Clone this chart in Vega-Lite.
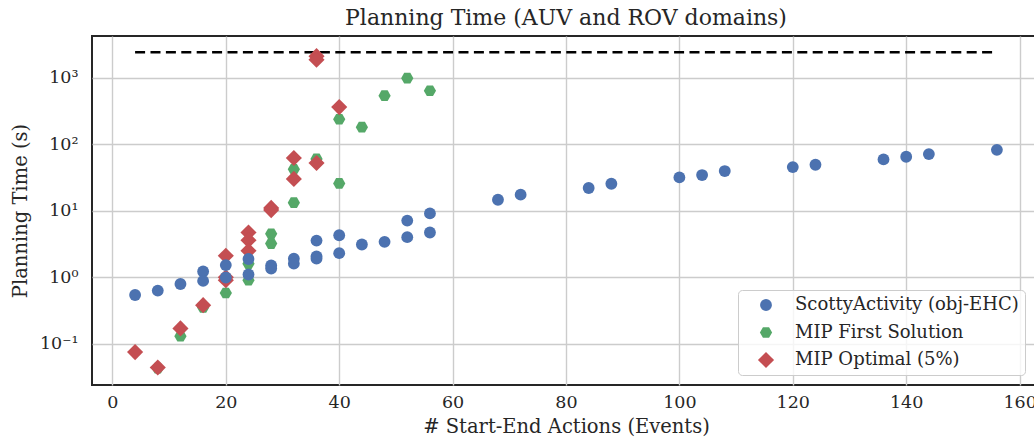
{
  "$schema": "https://vega.github.io/schema/vega-lite/v6.json",
  "autosize": "none",
  "padding": {"left": 92, "top": 36, "right": 0, "bottom": 59},
  "width": 948,
  "height": 349,
  "config": {
    "font": "DejaVu Serif",
    "view": {"stroke": "#262626", "strokeWidth": 2},
    "axis": {"grid": true, "gridColor": "#cccccc", "gridWidth": 1.4, "ticks": false, "domain": false, "labelColor": "#262626", "titleColor": "#262626", "labelFont": "DejaVu Serif", "titleFont": "DejaVu Serif", "labelFontSize": 17.5, "titleFontSize": 19.5, "titleFontWeight": "normal"},
    "title": {"font": "DejaVu Serif", "fontSize": 22, "fontWeight": "normal", "color": "#262626", "offset": 6}
  },
  "title": "Planning Time (AUV and ROV domains)",
  "datasets": {
    "pts": [
      {"x": 8, "t": 0.043, "s": "MIP First Solution"},
      {"x": 12, "t": 0.13, "s": "MIP First Solution"},
      {"x": 16, "t": 0.35, "s": "MIP First Solution"},
      {"x": 20, "t": 0.58, "s": "MIP First Solution"},
      {"x": 24, "t": 1.6, "s": "MIP First Solution"},
      {"x": 24, "t": 0.9, "s": "MIP First Solution"},
      {"x": 28, "t": 4.5, "s": "MIP First Solution"},
      {"x": 28, "t": 3.2, "s": "MIP First Solution"},
      {"x": 32, "t": 42, "s": "MIP First Solution"},
      {"x": 32, "t": 13.2, "s": "MIP First Solution"},
      {"x": 36, "t": 60, "s": "MIP First Solution"},
      {"x": 40, "t": 237, "s": "MIP First Solution"},
      {"x": 40, "t": 25.7, "s": "MIP First Solution"},
      {"x": 44, "t": 180, "s": "MIP First Solution"},
      {"x": 48, "t": 535, "s": "MIP First Solution"},
      {"x": 52, "t": 980, "s": "MIP First Solution"},
      {"x": 56, "t": 635, "s": "MIP First Solution"},
      {"x": 4, "t": 0.075, "s": "MIP Optimal (5%)"},
      {"x": 8, "t": 0.044, "s": "MIP Optimal (5%)"},
      {"x": 12, "t": 0.17, "s": "MIP Optimal (5%)"},
      {"x": 16, "t": 0.38, "s": "MIP Optimal (5%)"},
      {"x": 20, "t": 2.1, "s": "MIP Optimal (5%)"},
      {"x": 20, "t": 1.0, "s": "MIP Optimal (5%)"},
      {"x": 20, "t": 0.9, "s": "MIP Optimal (5%)"},
      {"x": 24, "t": 4.7, "s": "MIP Optimal (5%)"},
      {"x": 24, "t": 3.6, "s": "MIP Optimal (5%)"},
      {"x": 24, "t": 2.5, "s": "MIP Optimal (5%)"},
      {"x": 28, "t": 11, "s": "MIP Optimal (5%)"},
      {"x": 28, "t": 10.2, "s": "MIP Optimal (5%)"},
      {"x": 32, "t": 62, "s": "MIP Optimal (5%)"},
      {"x": 32, "t": 30, "s": "MIP Optimal (5%)"},
      {"x": 36, "t": 2100, "s": "MIP Optimal (5%)"},
      {"x": 36, "t": 1850, "s": "MIP Optimal (5%)"},
      {"x": 36, "t": 52, "s": "MIP Optimal (5%)"},
      {"x": 40, "t": 360, "s": "MIP Optimal (5%)"},
      {"x": 4, "t": 0.54, "s": "ScottyActivity (obj-EHC)"},
      {"x": 8, "t": 0.63, "s": "ScottyActivity (obj-EHC)"},
      {"x": 12, "t": 0.79, "s": "ScottyActivity (obj-EHC)"},
      {"x": 16, "t": 1.22, "s": "ScottyActivity (obj-EHC)"},
      {"x": 16, "t": 0.88, "s": "ScottyActivity (obj-EHC)"},
      {"x": 20, "t": 1.52, "s": "ScottyActivity (obj-EHC)"},
      {"x": 20, "t": 0.99, "s": "ScottyActivity (obj-EHC)"},
      {"x": 24, "t": 1.88, "s": "ScottyActivity (obj-EHC)"},
      {"x": 24, "t": 1.1, "s": "ScottyActivity (obj-EHC)"},
      {"x": 28, "t": 1.5, "s": "ScottyActivity (obj-EHC)"},
      {"x": 28, "t": 1.35, "s": "ScottyActivity (obj-EHC)"},
      {"x": 32, "t": 1.9, "s": "ScottyActivity (obj-EHC)"},
      {"x": 32, "t": 1.6, "s": "ScottyActivity (obj-EHC)"},
      {"x": 36, "t": 3.55, "s": "ScottyActivity (obj-EHC)"},
      {"x": 36, "t": 2.05, "s": "ScottyActivity (obj-EHC)"},
      {"x": 36, "t": 1.9, "s": "ScottyActivity (obj-EHC)"},
      {"x": 40, "t": 4.27, "s": "ScottyActivity (obj-EHC)"},
      {"x": 40, "t": 2.3, "s": "ScottyActivity (obj-EHC)"},
      {"x": 44, "t": 3.1, "s": "ScottyActivity (obj-EHC)"},
      {"x": 48, "t": 3.4, "s": "ScottyActivity (obj-EHC)"},
      {"x": 52, "t": 7.1, "s": "ScottyActivity (obj-EHC)"},
      {"x": 52, "t": 4.0, "s": "ScottyActivity (obj-EHC)"},
      {"x": 56, "t": 9.1, "s": "ScottyActivity (obj-EHC)"},
      {"x": 56, "t": 4.7, "s": "ScottyActivity (obj-EHC)"},
      {"x": 68, "t": 14.6, "s": "ScottyActivity (obj-EHC)"},
      {"x": 72, "t": 17.4, "s": "ScottyActivity (obj-EHC)"},
      {"x": 84, "t": 21.9, "s": "ScottyActivity (obj-EHC)"},
      {"x": 88, "t": 25.4, "s": "ScottyActivity (obj-EHC)"},
      {"x": 100, "t": 31.6, "s": "ScottyActivity (obj-EHC)"},
      {"x": 104, "t": 34.3, "s": "ScottyActivity (obj-EHC)"},
      {"x": 108, "t": 39.4, "s": "ScottyActivity (obj-EHC)"},
      {"x": 120, "t": 45.2, "s": "ScottyActivity (obj-EHC)"},
      {"x": 124, "t": 49, "s": "ScottyActivity (obj-EHC)"},
      {"x": 136, "t": 58.9, "s": "ScottyActivity (obj-EHC)"},
      {"x": 140, "t": 64.6, "s": "ScottyActivity (obj-EHC)"},
      {"x": 144, "t": 70.8, "s": "ScottyActivity (obj-EHC)"},
      {"x": 156, "t": 82, "s": "ScottyActivity (obj-EHC)"}
    ],
    "limit": [{"x": 4, "x2": 156, "t": 2400}]
  },
  "layer": [
    {
      "data": {"name": "limit"},
      "mark": {"type": "rule", "color": "#000000", "strokeWidth": 2.6, "strokeDash": [10, 5.4]},
      "encoding": {
        "x": {"field": "x", "type": "quantitative", "scale": {"domain": [-3.6, 163.6], "nice": false, "zero": false}},
        "x2": {"field": "x2"},
        "y": {"field": "t", "type": "quantitative", "scale": {"type": "log", "domain": [0.024, 4217], "nice": false}}
      }
    },
    {
      "data": {"name": "pts"},
      "mark": {"type": "point", "filled": true, "opacity": 1, "strokeWidth": 0},
      "encoding": {
        "x": {"field": "x", "type": "quantitative", "title": "# Start-End Actions (Events)",
          "axis": {"values": [0, 20, 40, 60, 80, 100, 120, 140, 160], "labelPadding": 8, "titlePadding": 7}},
        "y": {"field": "t", "type": "quantitative", "title": "Planning Time (s)",
          "axis": {"values": [0.1, 1, 10, 100, 1000], "labelPadding": 14, "titlePadding": 9,
            "labelExpr": "datum.value == 1000 ? '10³' : datum.value == 100 ? '10²' : datum.value == 10 ? '10¹' : datum.value == 1 ? '10⁰' : '10⁻¹'"}},
        "color": {"field": "s", "type": "nominal", "title": null,
          "scale": {"domain": ["ScottyActivity (obj-EHC)", "MIP First Solution", "MIP Optimal (5%)"], "range": ["#4C72B0", "#55A868", "#C44E52"]},
          "legend": {"orient": "none", "legendX": 646, "legendY": 254, "labelFontSize": 18, "labelFont": "DejaVu Serif", "labelColor": "#262626", "labelLimit": 400,
            "strokeColor": "#cccccc", "fillColor": "rgba(255,255,255,0.8)", "cornerRadius": 4, "padding": 6, "rowPadding": 9.5,
            "symbolOffset": 13, "labelOffset": 20, "symbolStrokeWidth": 0, "symbolOpacity": 1}},
        "shape": {"field": "s", "type": "nominal",
          "scale": {"domain": ["ScottyActivity (obj-EHC)", "MIP First Solution", "MIP Optimal (5%)"], "range": ["circle", "M-1,0L-0.5,-0.866L0.5,-0.866L1,0L0.5,0.866L-0.5,0.866Z", "diamond"]}},
        "size": {"field": "s", "type": "nominal",
          "scale": {"type": "ordinal", "domain": ["ScottyActivity (obj-EHC)", "MIP First Solution", "MIP Optimal (5%)"], "range": [140, 150, 260]}}
      }
    }
  ]
}
